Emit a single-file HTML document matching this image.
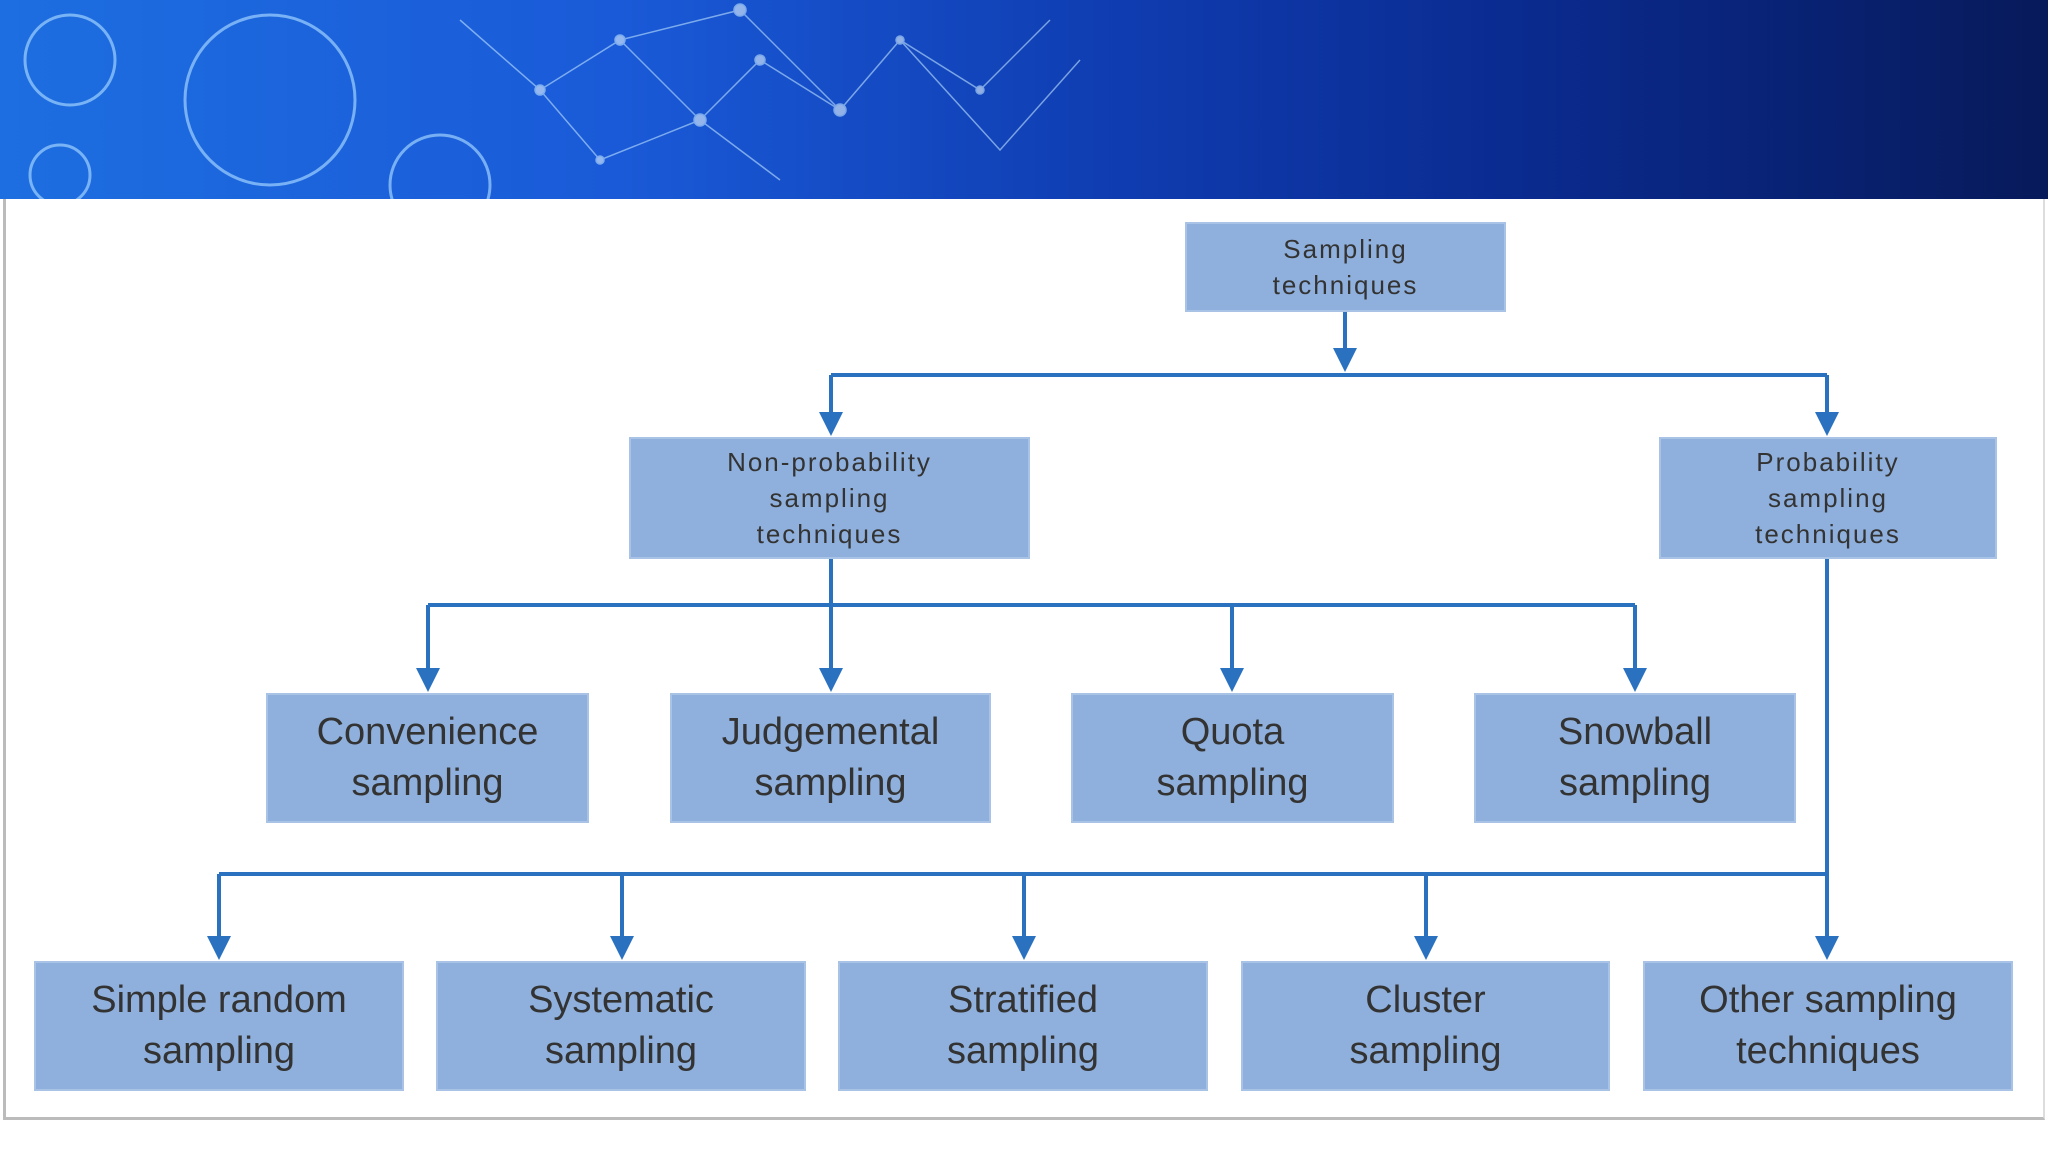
<!DOCTYPE html>
<html><head><style>
body{margin:0;width:2048px;height:1152px;background:#fff;position:relative;overflow:hidden;font-family:"Liberation Sans",sans-serif}
.hdr{position:absolute;left:0;top:0;width:2048px;height:199px;background:linear-gradient(90deg,#1d6ee0 0%,#1a5ad8 30%,#0f3cb0 55%,#0a2a8e 75%,#071a5a 100%)}
.frame{position:absolute;left:3px;top:199px;width:2042px;height:921px;border-left:3px solid #bbb;border-bottom:3px solid #bbb;border-right:2px solid #ddd;box-sizing:border-box}
.b{position:absolute;background:#8fb0dc;border:2px solid #a9c3e6;box-sizing:border-box;display:flex;align-items:center;justify-content:center;text-align:center;color:#333}
.s{font-size:26px;letter-spacing:2px;line-height:36px}
.l{font-size:38px;line-height:51px}
</style></head><body>
<div class="hdr">
<svg width="2048" height="199">
<g fill="none" stroke="#9fd2ff" stroke-width="3" opacity="0.7">
<circle cx="70" cy="60" r="45"/><circle cx="270" cy="100" r="85"/><circle cx="60" cy="175" r="30"/><circle cx="440" cy="185" r="50"/>
</g>
<g stroke="#bfe4ff" stroke-width="1.5" opacity="0.6" fill="#e6f6ff">
<path d="M460 20 L540 90 L620 40 L700 120 L760 60 L840 110 L900 40 L980 90 L1050 20 M540 90 L600 160 L700 120 L780 180 M620 40 L740 10 L840 110 M900 40 L1000 150 L1080 60" fill="none"/>
<circle cx="540" cy="90" r="5"/><circle cx="620" cy="40" r="5"/><circle cx="700" cy="120" r="6"/><circle cx="760" cy="60" r="5"/><circle cx="840" cy="110" r="6"/><circle cx="900" cy="40" r="4"/><circle cx="980" cy="90" r="4"/><circle cx="740" cy="10" r="6"/><circle cx="600" cy="160" r="4"/>
</g>
</svg>
</div>
<div class="frame"></div>
<svg width="2048" height="1152" style="position:absolute;left:0;top:0">
<defs><marker id="a" markerWidth="6" markerHeight="6" refX="5" refY="3" orient="auto" markerUnits="strokeWidth"><path d="M0,0 L6,3 L0,6 z" fill="#2a72c0"/></marker></defs>
<g stroke="#2a72c0" stroke-width="4" fill="none">
<line x1="1345" y1="312" x2="1345" y2="368" marker-end="url(#a)"/>
<line x1="831" y1="375" x2="1827" y2="375"/>
<line x1="831" y1="375" x2="831" y2="432" marker-end="url(#a)"/>
<line x1="1827" y1="375" x2="1827" y2="432" marker-end="url(#a)"/>
<line x1="831" y1="559" x2="831" y2="688" marker-end="url(#a)"/>
<line x1="428" y1="605" x2="1635" y2="605"/>
<line x1="428" y1="605" x2="428" y2="688" marker-end="url(#a)"/>
<line x1="1232" y1="605" x2="1232" y2="688" marker-end="url(#a)"/>
<line x1="1635" y1="605" x2="1635" y2="688" marker-end="url(#a)"/>
<line x1="1827" y1="559" x2="1827" y2="956" marker-end="url(#a)"/>
<line x1="219" y1="874" x2="1827" y2="874"/>
<line x1="219" y1="874" x2="219" y2="956" marker-end="url(#a)"/>
<line x1="622" y1="874" x2="622" y2="956" marker-end="url(#a)"/>
<line x1="1024" y1="874" x2="1024" y2="956" marker-end="url(#a)"/>
<line x1="1426" y1="874" x2="1426" y2="956" marker-end="url(#a)"/>
</g></svg>
<div class="b s" style="left:1185px;top:222px;width:321px;height:90px">Sampling<br>techniques</div>
<div class="b s" style="left:629px;top:437px;width:401px;height:122px">Non-probability<br>sampling<br>techniques</div>
<div class="b s" style="left:1659px;top:437px;width:338px;height:122px">Probability<br>sampling<br>techniques</div>
<div class="b l" style="left:266px;top:693px;width:323px;height:130px">Convenience<br>sampling</div>
<div class="b l" style="left:670px;top:693px;width:321px;height:130px">Judgemental<br>sampling</div>
<div class="b l" style="left:1071px;top:693px;width:323px;height:130px">Quota<br>sampling</div>
<div class="b l" style="left:1474px;top:693px;width:322px;height:130px">Snowball<br>sampling</div>
<div class="b l" style="left:34px;top:961px;width:370px;height:130px">Simple random<br>sampling</div>
<div class="b l" style="left:436px;top:961px;width:370px;height:130px">Systematic<br>sampling</div>
<div class="b l" style="left:838px;top:961px;width:370px;height:130px">Stratified<br>sampling</div>
<div class="b l" style="left:1241px;top:961px;width:369px;height:130px">Cluster<br>sampling</div>
<div class="b l" style="left:1643px;top:961px;width:370px;height:130px">Other sampling<br>techniques</div>
</body></html>
